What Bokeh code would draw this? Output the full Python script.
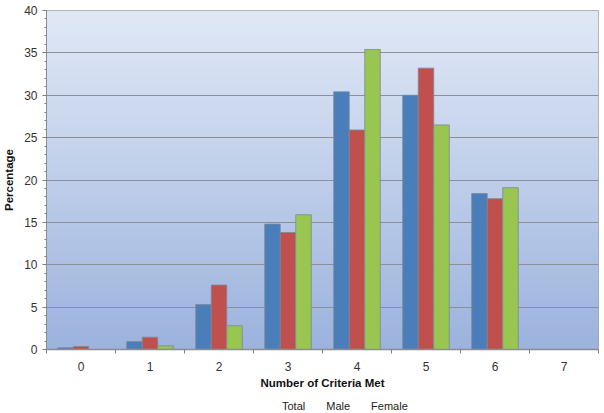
import numpy as np
from bokeh.plotting import figure
from bokeh.layouts import column
from bokeh.models import (ColumnDataSource, Range1d, FixedTicker, SingleIntervalTicker,
                          Legend, LegendItem)
from bokeh.transform import dodge
from bokeh.embed import file_html
from bokeh.resources import INLINE

categories = ["0", "1", "2", "3", "4", "5", "6", "7"]
total = [0.2, 0.94, 5.3, 14.8, 30.4, 30.0, 18.4, 0.0]
male = [0.35, 1.45, 7.6, 13.8, 25.9, 33.2, 17.8, 0.0]
female = [0.0, 0.43, 2.8, 15.9, 35.4, 26.5, 19.1, 0.0]
y_ticks = [0, 5, 10, 15, 20, 25, 30, 35, 40]

FONT = "Liberation Sans"
n = len(categories)
centers = [i + 0.5 for i in range(n)]
src = ColumnDataSource(dict(x=centers, total=total, male=male, female=female))

p = figure(frame_width=552, frame_height=339,
           output_backend="svg", toolbar_location=None,
           x_range=Range1d(0, n), y_range=Range1d(0, 40),
           min_border_left=46, min_border_right=2, min_border_top=10, min_border_bottom=0)
p.background_fill_color = "white"
p.border_fill_color = "white"
p.outline_line_color = "#a6a6a6"

# vertical gradient background of plot area
rows = 256
top = np.array([0xE1, 0xE9, 0xF6], dtype=float)
bot = np.array([0x9C, 0xB3, 0xDE], dtype=float)
t = np.linspace(0, 1, rows)[:, None]
cols = bot + (top - bot) * t
img = np.zeros((rows, 1), dtype=np.uint32)
view = img.view(dtype=np.uint8).reshape((rows, 1, 4))
view[:, 0, 0] = cols[:, 0].astype(np.uint8)
view[:, 0, 1] = cols[:, 1].astype(np.uint8)
view[:, 0, 2] = cols[:, 2].astype(np.uint8)
view[:, 0, 3] = 255
bg = p.image_rgba(image=[img], x=0, y=0, dw=n, dh=40)
bg.level = "image"

w = 0.225
colors = ["#4a7ebb", "#c0504d", "#98c650"]
names = ["Total", "Male", "Female"]
fields = ["total", "male", "female"]
for k, (f, c) in enumerate(zip(fields, colors)):
    p.vbar(x=dodge("x", (k - 1) * w, range=p.x_range), top=f, width=w, bottom=0,
           source=src, fill_color=c, line_color="#7d8896", line_width=0.8)

# grid
p.xgrid.visible = False
p.ygrid.ticker = FixedTicker(ticks=y_ticks)
p.ygrid.grid_line_color = "#8a8f98"
p.ygrid.grid_line_width = 1

# x axis
xa = p.xaxis[0]
xa.ticker = FixedTicker(ticks=centers, minor_ticks=list(range(n + 1)))
xa.major_label_overrides = {c: lab for c, lab in zip(centers, categories)}
xa.major_tick_out = 0
xa.major_tick_in = 0
xa.minor_tick_out = 4
xa.minor_tick_in = 0
xa.minor_tick_line_color = "#7f7f7f"
xa.axis_line_color = "#8c8c8c"
xa.axis_line_width = 1.5
xa.major_label_text_font = FONT
xa.major_label_text_font_size = "12px"
xa.major_label_text_color = "#333333"
xa.major_label_standoff = 8
xa.axis_label = "Number of Criteria Met"
xa.axis_label_text_font = FONT
xa.axis_label_text_font_style = "bold"
xa.axis_label_text_font_size = "11.5px"
xa.axis_label_text_color = "#111111"
xa.axis_label_standoff = 3

# y axis
ya = p.yaxis[0]
ya.ticker = SingleIntervalTicker(interval=5, num_minor_ticks=5)
ya.major_tick_out = 4
ya.major_tick_in = 0
ya.minor_tick_out = 2
ya.minor_tick_in = 0
ya.major_tick_line_color = "#7f7f7f"
ya.minor_tick_line_color = "#7f7f7f"
ya.axis_line_color = "#8c8c8c"
ya.major_label_text_font = FONT
ya.major_label_text_font_size = "12px"
ya.major_label_text_color = "#333333"
ya.major_label_standoff = 5
ya.axis_label = "Percentage"
ya.axis_label_text_font = FONT
ya.axis_label_text_font_style = "bold"
ya.axis_label_text_font_size = "11.5px"
ya.axis_label_text_color = "#111111"
ya.axis_label_standoff = 6

# legend strip below the chart (own small figure so it is never clipped)
lg = figure(width=600, height=24, output_backend="svg", toolbar_location=None,
            x_range=Range1d(0, 600), y_range=Range1d(0, 24),
            min_border_left=0, min_border_right=0, min_border_top=0, min_border_bottom=0)
lg.axis.visible = False
lg.grid.visible = False
lg.outline_line_color = None
lg.background_fill_color = "white"
lg.border_fill_color = "white"
empty = ColumnDataSource(dict(x=[], top=[]))
leg_renderers = [lg.vbar(x="x", top="top", width=1, source=empty, fill_color=c,
                         line_color="#7d8896", line_width=0.8) for c in colors]
legend = Legend(items=[LegendItem(label=nm, renderers=[r]) for nm, r in zip(names, leg_renderers)],
                orientation="horizontal", location=(225, 3))
legend.glyph_width = 8
legend.glyph_height = 8
legend.label_text_font = FONT
legend.label_text_font_size = "11px"
legend.label_text_color = "#222222"
legend.label_standoff = 3
legend.spacing = 10
legend.padding = 0
legend.margin = 0
legend.border_line_color = None
legend.background_fill_alpha = 0
legend.label_height = 12
lg.add_layout(legend, "center")

layout = column(p, lg, spacing=0)
open("out.html", "w").write(file_html(layout, INLINE))
